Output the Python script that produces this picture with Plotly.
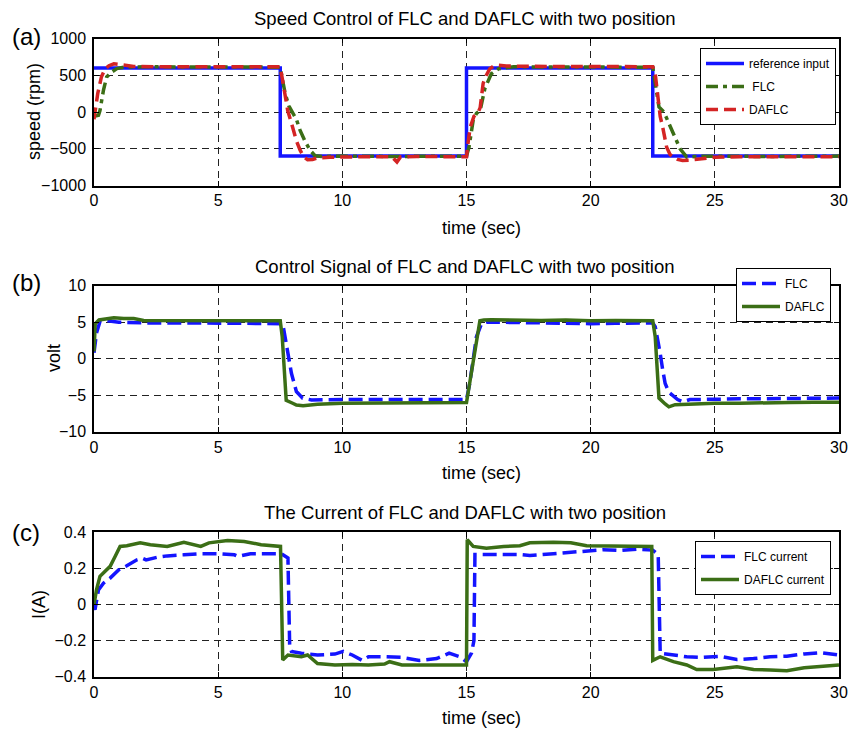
import plotly.graph_objects as go

# ---------------- data: (a) speed ----------------
t_ref = [0, 7.5, 7.5, 15, 15, 22.5, 22.5, 30]
speed_ref = [600, 600, -600, -600, 600, 600, -600, -600]

t_flc_speed = [0, 0.18, 0.24, 0.38, 0.51, 0.72, 0.92, 1.2, 2, 4, 6, 7.5,
               7.6, 7.7, 7.85, 8.0, 8.15, 8.3, 8.5, 8.7, 8.9, 9.2, 10, 12, 14, 15.0,
               15.1, 15.27, 15.4, 15.55, 15.74, 15.9, 16.0, 16.3, 16.6, 16.9, 18, 20, 22.5,
               22.6, 22.75, 22.95, 23.1, 23.33, 23.6, 23.87, 24.2, 25, 27, 30]
flc_speed = [-60, -45, 20, 295, 477, 545, 590, 610, 615, 612, 615, 610,
             420, 250, 80, 0, -100, -250, -400, -520, -595, -605, -600, -605, -600, -600,
             -480, -110, -20, 20, 320, 460, 520, 590, 605, 615, 612, 615, 610,
             390, 70, 0, -120, -295, -500, -615, -605, -600, -605, -600]

t_daflc_speed = [0, 0.05, 0.15, 0.3, 0.45, 0.6, 0.8, 0.95, 1.2, 1.6, 2.5, 4, 6, 7.5,
                 7.6, 7.7, 7.8, 7.95, 8.15, 8.3, 8.45, 8.6, 8.8, 9.0, 9.5, 10.5, 11.5,
                 12.0, 12.2, 12.35, 13, 14, 15.0, 15.07, 15.15, 15.3, 15.45, 15.55, 15.67,
                 15.8, 15.94, 16.1, 16.3, 16.6, 17.5, 19, 21, 22.5, 22.6, 22.7, 22.8, 22.9,
                 23.06, 23.2, 23.33, 23.5, 23.7, 24.0, 24.3, 24.6, 25, 26, 28, 30]
daflc_speed = [-100, 50, 250, 480, 590, 630, 655, 650, 635, 620, 615, 618, 615, 615,
               420, 200, 20, -150, -390, -520, -610, -650, -645, -625, -615, -610, -605,
               -610, -680, -610, -605, -610, -610, -400, -205, -60, -20, 60, 390,
               500, 590, 625, 636, 625, 620, 618, 620, 615, 520, 200, -60, -205,
               -480, -580, -615, -645, -660, -655, -640, -625, -615, -610, -612, -610]

# ---------------- data: (b) control signal ----------------
t_flc_volt = [0, 0.1, 0.25, 0.5, 1.0, 2, 4, 6, 7.5, 7.6, 7.74, 7.95, 8.15, 8.4, 8.76,
              9.5, 10, 12, 14, 15.0, 15.13, 15.27, 15.4, 15.6, 15.8, 16.2, 17, 19, 20,
              21, 22.5, 22.6, 22.7, 22.8, 22.9, 23.0, 23.15, 23.33, 23.5, 23.7, 24, 26,
              28, 30]
flc_volt = [0.8, 3.5, 5.2, 5.2, 5.0, 4.9, 4.9, 4.9, 4.9, 4.8, 2.1, -2.0, -4.5, -5.4, -5.65,
            -5.6, -5.6, -5.6, -5.6, -5.6, -3.4, 0.3, 3.0, 4.75, 5.0, 5.0, 4.95, 4.9, 4.8,
            4.85, 4.9, 4.4, 2.8, 0.7, -1.5, -3.4, -4.6, -5.2, -5.6, -5.9, -5.6, -5.5,
            -5.5, -5.4]

t_daflc_volt = [0, 0.05, 0.2, 0.5, 0.8, 1.2, 1.6, 2.0, 3, 4, 5, 6, 7, 7.5, 7.58, 7.74,
                8.0, 8.15, 8.42, 9.0, 10, 11, 12, 12.5, 13, 14, 15.0, 15.54, 15.7, 16.0,
                16.5, 17, 18, 19, 20, 21, 22, 22.5, 22.6, 22.75, 23.0, 23.15, 23.4, 24,
                25, 26, 27, 28, 29, 30]
daflc_volt = [1.0, 4.8, 5.3, 5.5, 5.6, 5.5, 5.5, 5.25, 5.25, 5.2, 5.2, 5.2, 5.25, 5.2, 3.0,
              -5.7, -6.1, -6.35, -6.45, -6.25, -6.1, -6.1, -6.0, -6.05, -6.1, -6.1, -6.0,
              5.2, 5.3, 5.35, 5.3, 5.3, 5.25, 5.3, 5.2, 5.25, 5.25, 5.2, 3.0, -5.4, -6.2,
              -6.6, -6.3, -6.2, -6.1, -6.1, -6.0, -6.0, -5.95, -5.95]

# ---------------- data: (c) current ----------------
t_flc_cur = [0, 0.04, 0.18, 0.38, 0.65, 0.99, 1.32, 1.73, 1.95, 2.1, 2.54, 2.95, 3.62,
             4.3, 4.97, 5.65, 5.8, 6.3, 7.0, 7.54, 7.81, 7.88, 7.95, 8.35, 9.0, 9.7,
             10.04, 10.4, 10.8, 11.05, 11.7, 12.4, 13.1, 13.8, 14.3, 14.73, 15.0, 15.2,
             15.3, 15.34, 17.15, 17.55, 18.5, 19.84, 20.5, 21.2, 21.85, 22.5, 22.72,
             22.8, 23.33, 23.87, 24.54, 25.2, 25.89, 26.56, 27.23, 27.9, 28.6, 29.25, 30]
flc_cur = [-0.01, -0.03, 0.08, 0.117, 0.145, 0.19, 0.213, 0.246, 0.255, 0.246, 0.26,
           0.268, 0.274, 0.28, 0.28, 0.274, 0.265, 0.28, 0.28, 0.28, 0.256, -0.234,
           -0.26, -0.27, -0.28, -0.275, -0.26, -0.28, -0.31, -0.29, -0.29, -0.293,
           -0.31, -0.3, -0.27, -0.29, -0.317, -0.27, -0.2, 0.275, 0.275, 0.27, 0.28,
           0.293, 0.302, 0.298, 0.305, 0.3, 0.275, -0.27, -0.28, -0.29, -0.293,
           -0.287, -0.305, -0.3, -0.29, -0.287, -0.274, -0.267, -0.28]

t_daflc_cur = [0, 0.1, 0.24, 0.51, 0.65, 0.85, 1.05, 1.32, 1.86, 2.27, 2.95, 3.62, 4.3,
               4.63, 5.38, 6.05, 6.73, 7.51, 7.6, 7.81, 8.35, 8.6, 9.0, 9.7, 10.4, 11.05,
               11.7, 11.9, 12.4, 13.6, 15.0, 15.03, 15.27, 15.8, 16.5, 17.15, 17.55,
               18.5, 19.2, 19.84, 21.2, 22.46, 22.5, 22.8, 23.33, 23.87, 24.27, 24.94,
               25.89, 26.56, 27.23, 27.9, 28.6, 30]
daflc_cur = [0.0, 0.08, 0.155, 0.19, 0.21, 0.265, 0.32, 0.324, 0.34, 0.33, 0.32, 0.343,
             0.32, 0.34, 0.353, 0.348, 0.33, 0.32, -0.308, -0.28, -0.29, -0.28, -0.327,
             -0.335, -0.332, -0.335, -0.33, -0.317, -0.335, -0.335, -0.335, 0.357, 0.32,
             0.31, 0.32, 0.324, 0.34, 0.343, 0.34, 0.324, 0.32, 0.32, -0.31, -0.29,
             -0.317, -0.335, -0.36, -0.36, -0.345, -0.36, -0.363, -0.367, -0.35, -0.335]

x_ticks = [0, 5, 10, 15, 20, 25, 30]

# ---------------- styling ----------------
FONT = "Liberation Sans, Arial, sans-serif"
BLUE = "#1414ff"
GREEN = "#3b6e16"
RED = "#d42424"
W, H = 850, 732

fig = go.Figure()

# (a)
fig.add_trace(go.Scatter(x=t_ref, y=speed_ref, mode="lines", name="reference input",
                         line=dict(color=BLUE, width=3.5), xaxis="x", yaxis="y",
                         legend="legend", legendgroup="a1"))
fig.add_trace(go.Scatter(x=t_flc_speed, y=flc_speed, mode="lines", name=" FLC",
                         line=dict(color=GREEN, width=3.5, dash="12px,5px,4px,5px"),
                         xaxis="x", yaxis="y", legend="legend", legendgroup="a2"))
fig.add_trace(go.Scatter(x=t_daflc_speed, y=daflc_speed, mode="lines", name="DAFLC",
                         line=dict(color=RED, width=3.5, dash="12px,6px"),
                         xaxis="x", yaxis="y", legend="legend", legendgroup="a3"))
# (b)
fig.add_trace(go.Scatter(x=t_flc_volt, y=flc_volt, mode="lines", name="FLC",
                         line=dict(color=BLUE, width=3.5, dash="14px,6px"),
                         xaxis="x2", yaxis="y2", legend="legend2", legendgroup="b1"))
fig.add_trace(go.Scatter(x=t_daflc_volt, y=daflc_volt, mode="lines", name="DAFLC",
                         line=dict(color=GREEN, width=3.5),
                         xaxis="x2", yaxis="y2", legend="legend2", legendgroup="b2"))
# (c)
fig.add_trace(go.Scatter(x=t_flc_cur, y=flc_cur, mode="lines", name="FLC current",
                         line=dict(color=BLUE, width=3.5, dash="14px,6px"),
                         xaxis="x3", yaxis="y3", legend="legend3", legendgroup="c1"))
fig.add_trace(go.Scatter(x=t_daflc_cur, y=daflc_cur, mode="lines", name="DAFLC current",
                         line=dict(color=GREEN, width=3.5),
                         xaxis="x3", yaxis="y3", legend="legend3", legendgroup="c2"))

x_dom = [94 / W, 839 / W]
panels = [  # (top px, bottom px, yrange, ytickvals)
    (38.5, 185.5, [-1000, 1000], [-1000, -500, 0, 500, 1000]),
    (285.7, 431.7, [-10, 10], [-10, -5, 0, 5, 10]),
    (532.0, 676.7, [-0.4, 0.4], [-0.4, -0.2, 0, 0.2, 0.4]),
]

axis_common = dict(showline=True, linecolor="black", linewidth=1.5, mirror="ticks",
                   ticks="inside", ticklen=5, tickcolor="black", tickwidth=1,
                   showgrid=True, gridcolor="#222222", gridwidth=0.8, griddash="7px,5px",
                   zeroline=False, automargin=False,
                   tickfont=dict(family=FONT, size=16, color="black"))

for i, (top, bot, yr, yt) in enumerate(panels):
    sfx = "" if i == 0 else str(i + 1)
    ydom = [1 - bot / H, 1 - top / H]
    fig.layout["xaxis" + sfx] = dict(domain=x_dom, range=[0, 30], tickvals=x_ticks,
                                     anchor="y" + sfx, ticklabelstandoff=0, **axis_common)
    fig.layout["yaxis" + sfx] = dict(domain=ydom, range=yr, tickvals=yt,
                                     anchor="x" + sfx, ticklabelstandoff=3, **axis_common)

legend_common = dict(bgcolor="white", bordercolor="black", borderwidth=1,
                     font=dict(family=FONT, size=12, color="black"),
                     xanchor="left", yanchor="top", tracegroupgap=4, itemwidth=38)
fig.update_layout(
    legend=dict(x=700 / W, y=1 - 48 / H, **legend_common),
    legend2=dict(x=736 / W, y=1 - 268 / H, **legend_common),
    legend3=dict(x=695 / W, y=1 - 541 / H, **legend_common),
)

annotations = []
titles = ["Speed Control of FLC and DAFLC with two position",
          "Control Signal of FLC and DAFLC with two position",
          "The Current of FLC and DAFLC with two position"]
title_y = [19, 266, 512]
for ty, tx in zip(title_y, titles):
    annotations.append(dict(text=tx, x=465 / W, y=1 - ty / H, xref="paper", yref="paper",
                            showarrow=False, xanchor="center", yanchor="middle",
                            font=dict(family=FONT, size=18.5, color="black")))
xlabel_y = [228, 473, 718]
for ly in xlabel_y:
    annotations.append(dict(text="time (sec)", x=481 / W, y=1 - ly / H, xref="paper",
                            yref="paper", showarrow=False, xanchor="center",
                            yanchor="middle", font=dict(family=FONT, size=18, color="black")))
ylabels = [("speed (rpm)", 34, 112), ("volt", 54, 358), ("I(A)", 39, 605)]
for txt, lx, ly in ylabels:
    annotations.append(dict(text=txt, x=lx / W, y=1 - ly / H, xref="paper", yref="paper",
                            showarrow=False, textangle=-90, xanchor="center",
                            yanchor="middle", font=dict(family=FONT, size=18, color="black")))
panel_labels = [("(a)", 26, 36), ("(b)", 26, 283), ("(c)", 26, 532)]
for txt, lx, ly in panel_labels:
    annotations.append(dict(text=txt, x=lx / W, y=1 - ly / H, xref="paper", yref="paper",
                            showarrow=False, xanchor="center", yanchor="middle",
                            font=dict(family=FONT, size=24, color="black")))

fig.update_layout(width=W, height=H, margin=dict(l=0, r=0, t=0, b=0, pad=0),
                  paper_bgcolor="white", plot_bgcolor="white",
                  annotations=annotations, showlegend=True)

fig.write_html("out.html")
